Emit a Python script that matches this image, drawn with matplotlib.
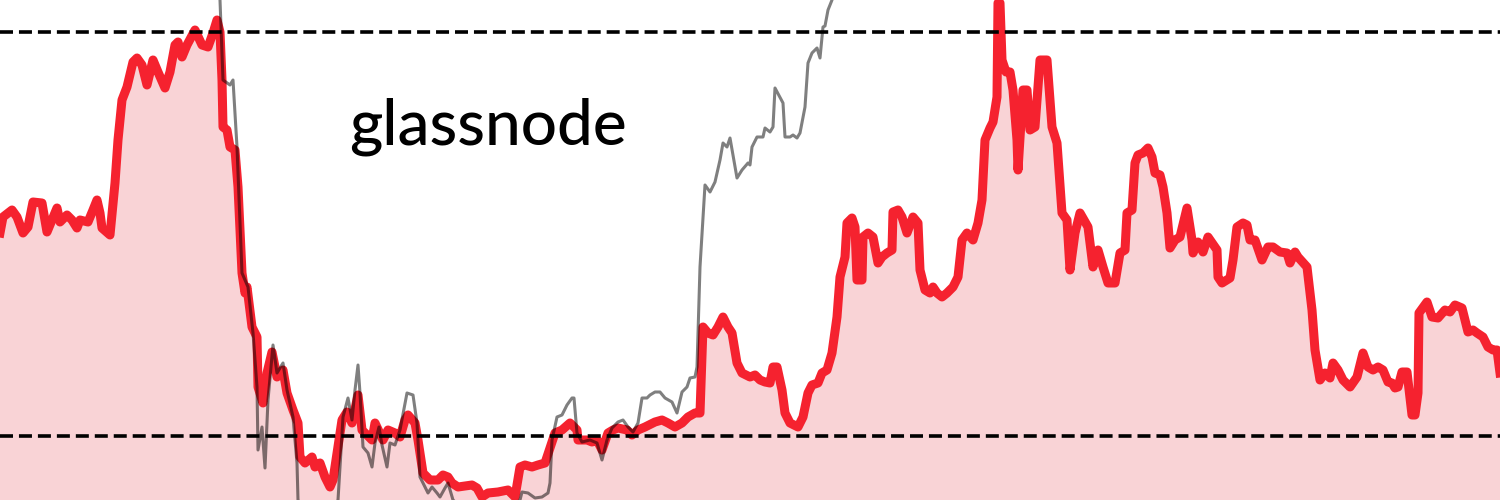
import matplotlib.pyplot as plt

# red series (metric), x = time index, value = level
red_x = [0, 3, 12, 17, 23, 28, 33, 42, 47, 57, 60, 67, 72, 77, 80, 88, 93, 97, 100, 102,
         110, 115, 118, 122, 127, 133, 137, 142, 147, 153, 158, 165, 170, 175, 178, 182, 187, 195, 202, 208,
         213, 217, 220, 222, 223, 227, 230, 235, 238, 242, 245, 247, 252, 257, 258, 263, 267, 272, 277, 283,
         287, 293, 298, 300, 305, 312, 315, 320, 325, 330, 333, 342, 347, 352, 358, 362, 372, 375, 383, 388,
         395, 400, 405, 408, 415, 418, 423, 430, 438, 443, 448, 452, 458, 472, 477, 482, 488, 498, 508, 515,
         520, 525, 532, 538, 545, 555, 562, 570, 577, 578, 587, 592, 597, 602, 608, 613, 618, 627, 632, 638,
         645, 655, 662, 668, 675, 682, 688, 695, 700, 703, 708, 713, 718, 723, 728, 732, 737, 742, 750, 755,
         760, 765, 770, 773, 777, 782, 785, 790, 798, 803, 808, 812, 818, 822, 827, 832, 837, 840, 845, 847,
         852, 855, 857, 862, 863, 868, 873, 878, 882, 887, 892, 893, 898, 902, 907, 913, 918, 920, 925, 930,
         933, 937, 942, 947, 953, 958, 962, 967, 973, 978, 982, 985, 990, 993, 997, 998, 1000, 1002, 1006, 1010,
         1013, 1017, 1018, 1023, 1027, 1030, 1035, 1040, 1047, 1052, 1057, 1062, 1067, 1070, 1075, 1080, 1088, 1093, 1098, 1103,
         1108, 1115, 1120, 1125, 1127, 1132, 1135, 1138, 1143, 1148, 1152, 1155, 1160, 1163, 1167, 1170, 1175, 1180, 1187, 1192,
         1193, 1198, 1203, 1208, 1217, 1218, 1222, 1230, 1233, 1237, 1243, 1247, 1250, 1255, 1262, 1268, 1273, 1280, 1287, 1290,
         1295, 1298, 1307, 1312, 1315, 1320, 1325, 1330, 1333, 1338, 1343, 1350, 1357, 1363, 1368, 1373, 1378, 1383, 1388, 1392,
         1395, 1398, 1402, 1407, 1412, 1415, 1418, 1419, 1427, 1432, 1438, 1445, 1450, 1455, 1462, 1468, 1473, 1477, 1483, 1488,
         1493, 1497, 1500]
red_y = [267, 283, 290, 283, 267, 273, 298, 297, 268, 292, 278, 285, 280, 272, 280, 278, 290, 300, 287, 272,
         265, 317, 360, 400, 413, 438, 442, 435, 415, 440, 428, 412, 428, 455, 458, 443, 455, 470, 455, 453,
         467, 480, 468, 420, 373, 370, 353, 350, 313, 227, 207, 213, 173, 163, 113, 97, 127, 148, 123, 130,
         107, 90, 77, 43, 37, 43, 33, 37, 23, 13, 20, 80, 88, 77, 105, 70, 60, 77, 60, 70,
         67, 63, 80, 85, 77, 60, 27, 20, 20, 25, 23, 17, 13, 15, 12, 3, 7, 8, 10, 3,
         33, 35, 33, 35, 37, 67, 70, 77, 70, 60, 60, 58, 60, 50, 67, 70, 72, 70, 65, 70,
         73, 78, 80, 77, 73, 77, 83, 87, 87, 173, 167, 165, 173, 183, 173, 167, 137, 127, 123, 125,
         120, 118, 117, 133, 133, 110, 87, 77, 73, 83, 107, 115, 117, 127, 130, 147, 183, 223, 243, 277,
         282, 273, 220, 220, 263, 267, 263, 237, 243, 247, 250, 288, 290, 283, 267, 283, 277, 230, 210, 207,
         213, 207, 203, 207, 213, 223, 260, 267, 260, 277, 300, 360, 372, 378, 403, 497, 497, 440, 428, 428,
         410, 360, 330, 410, 410, 370, 373, 440, 440, 373, 357, 287, 280, 230, 267, 287, 273, 233, 250, 233,
         217, 217, 247, 250, 287, 290, 337, 345, 347, 352, 343, 327, 325, 313, 287, 252, 260, 263, 292, 260,
         247, 258, 248, 263, 250, 223, 217, 222, 240, 273, 277, 275, 260, 260, 240, 253, 253, 248, 247, 237,
         248, 243, 233, 190, 150, 120, 127, 122, 137, 130, 120, 113, 123, 147, 133, 130, 133, 130, 118, 117,
         112, 113, 128, 128, 85, 85, 107, 187, 198, 183, 182, 190, 188, 195, 192, 168, 170, 167, 163, 153,
         150, 150, 127]

# gray series (price), runs off the chart top and bottom
gray_x = [219, 220, 223, 230, 233, 237, 242, 248, 253, 257, 258, 262, 265, 268, 273, 277, 283, 287, 293, 297,
          298, 318, 338, 343, 348, 352, 355, 358, 360, 363, 368, 372, 375, 379, 382, 387, 390, 395, 400, 407,
          413, 417, 420, 423, 428, 432, 437, 440, 445, 448, 453, 485, 520, 522, 528, 535, 542, 548, 550, 552,
          557, 562, 567, 572, 574, 577, 582, 590, 597, 602, 607, 612, 618, 623, 628, 633, 638, 642, 647, 650,
          655, 660, 665, 672, 677, 682, 687, 690, 695, 697, 700, 705, 710, 715, 720, 723, 727, 730, 737, 742,
          748, 750, 752, 757, 763, 765, 770, 773, 775, 783, 785, 790, 793, 797, 800, 805, 808, 812, 817, 820,
          823, 825, 828, 832, 835]
gray_y = [560, 500, 420, 415, 420, 353, 227, 213, 167, 113, 50, 73, 32, 100, 155, 127, 137, 110, 83, 37,
          0, -40, 0, 83, 102, 80, 110, 135, 107, 53, 47, 33, 57, 73, 55, 33, 57, 55, 70, 107,
          105, 77, 23, 17, 7, 13, 7, 3, 12, 17, 0, -30, 0, 8, 7, 2, 3, 7, 17, 60,
          83, 85, 95, 102, 102, 67, 58, 60, 57, 40, 60, 72, 78, 80, 73, 68, 77, 102, 102, 105,
          108, 108, 102, 98, 87, 108, 113, 122, 123, 133, 233, 315, 308, 318, 340, 357, 353, 362, 322, 330,
          337, 335, 353, 363, 363, 372, 368, 373, 412, 397, 363, 363, 365, 362, 367, 393, 437, 447, 452, 442,
          473, 474, 490, 500, 530]

upper_band = 468
lower_band = 64

fig = plt.figure(figsize=(15, 5), dpi=100)
ax = fig.add_axes([0, 0, 1, 1])

ax.fill_between(red_x, red_y, 0, color='#F9D3D6', lw=0, zorder=1)
ax.plot(red_x, red_y, color='#F5222F', lw=6.5, solid_joinstyle='round', zorder=2)
ax.plot(gray_x, gray_y, color='black', alpha=0.5, lw=2.2, zorder=3)
for lvl in (upper_band, lower_band):
    ax.axhline(lvl, color='black', lw=2.6, linestyle=(0, (3.6, 1.65)), zorder=4)

ax.text(488, 373, 'glassnode', fontsize=46, family='Lato', weight='medium',
        ha='center', va='center', zorder=5)

ax.set_xlim(0, 1500)
ax.set_ylim(0, 500)
ax.axis('off')

fig.savefig('out.png', dpi=100)
